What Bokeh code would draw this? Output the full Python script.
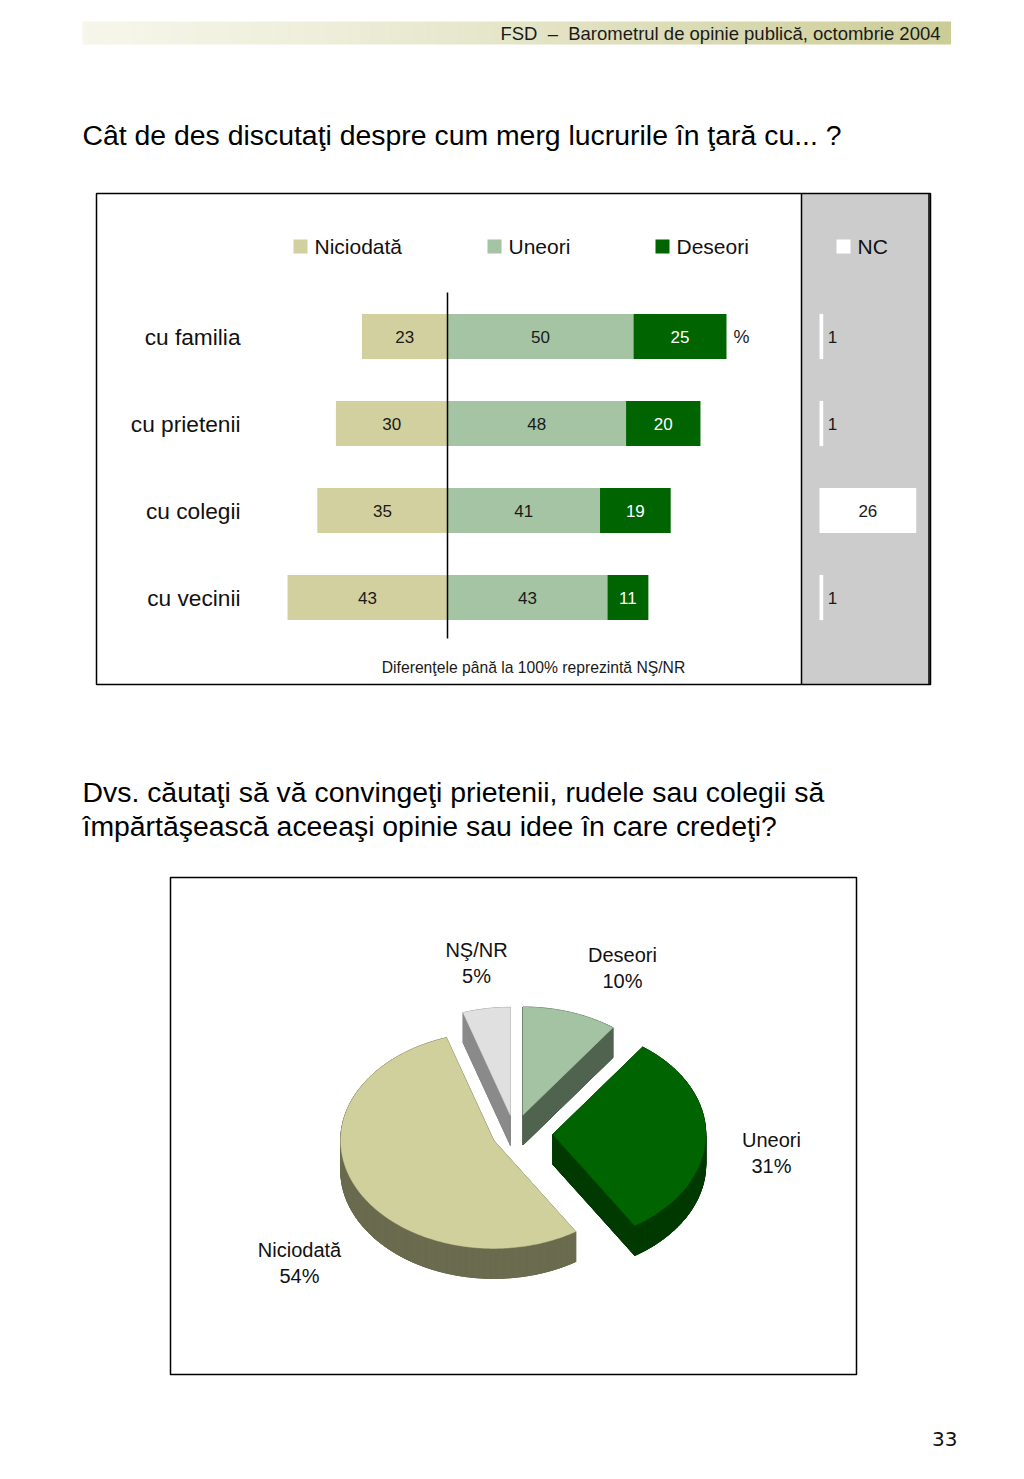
import numpy as np
from bokeh.plotting import figure
from bokeh.layouts import column
from bokeh.models import Range1d
from bokeh.embed import file_html
from bokeh.resources import INLINE
from bokeh.core.properties import value

FONT = "Liberation Sans"

# ---------------- data ----------------
header_text = "FSD\u00a0\u00a0–\u00a0\u00a0Barometrul de opinie publică, octombrie 2004"
title1 = "Cât de des discutaţi despre cum merg lucrurile în ţară cu... ?"
title2_lines = ["Dvs. căutaţi să vă convingeţi prietenii, rudele sau colegii să",
                "împărtăşească aceeaşi opinie sau idee în care credeţi?"]
page_number = "33"

bar_categories = ["cu familia", "cu prietenii", "cu colegii", "cu vecinii"]
bar_series = ["Niciodată", "Uneori", "Deseori"]
niciodata = [23, 30, 35, 43]
uneori = [50, 48, 41, 43]
deseori = [25, 20, 19, 11]
nc_label = "NC"
nc = [1, 1, 26, 1]
bar_note = "Diferenţele până la 100% reprezintă NŞ/NR"
bar_unit = "%"

pie_labels = ["Deseori", "Uneori", "Niciodată", "NŞ/NR"]
pie_values = [10, 31, 54, 5]

# ---------------- styles ----------------
C_NIC = "#d2d09e"
C_UNE = "#a4c4a4"
C_DES = "#006400"
PIE_TOP = {"Deseori": "#a3c3a3", "Uneori": "#006400", "Niciodată": "#d0d09c", "NŞ/NR": "#e0e0e0"}
PIE_SIDE = {"Deseori": "#4f634f", "Uneori": "#003a00", "Niciodată": "#6b6b4f", "NŞ/NR": "#8a8a8a"}
PIE_EXPLODE = {"Deseori": 0.18, "Uneori": 0.25, "Niciodată": 0.15, "NŞ/NR": 0.17}

W = 1008


def blank(height, xr, yr):
    p = figure(width=W, height=height, x_range=xr, y_range=yr,
               output_backend="svg", toolbar_location=None,
               x_axis_type=None, y_axis_type=None, min_border=0)
    p.grid.visible = False
    p.outline_line_color = None
    p.background_fill_color = "white"
    p.border_fill_color = "white"
    return p


def txt(p, x, y, t, size, align="left", color="#111111", font=FONT):
    p.text(x=x, y=y, text=t, text_font=value(font), text_font_size=size,
           text_align=align, text_baseline="middle", text_color=color)


# ---------------- top: header + title 1 ----------------
top = blank(190, Range1d(0, W), Range1d(190, 0))
n = 160
edges = np.linspace(82, 950, n + 1)
c0 = np.array([246, 246, 234])
c1 = np.array([204, 204, 150])
cols = []
for i in range(n):
    f = (i / (n - 1)) ** 1.3
    c = (c0 + (c1 - c0) * f).astype(int)
    cols.append("#%02x%02x%02x" % tuple(c))
top.quad(left=edges[:-1], right=edges[1:] + 0.5, top=21, bottom=44,
         fill_color=cols, line_color=None)
txt(top, [940], [33], [header_text], "18.5px", "right", "#1a1a1a")
txt(top, [82], [134], [title1], "28.4px", "left", "#000000")

# ---------------- bar chart ----------------
s = 3.72  # px per percent (style)
X0 = 447.0  # page x of zero line (style)
Y0, DY = 336.0, 87.0  # page y of first row, row spacing (style)


def px(v):
    return (v - X0) / s


def py(v):
    return (v - Y0) / DY


bar = blank(500, Range1d(px(0), px(W)), Range1d(py(690), py(190)))

idx = list(range(len(bar_categories)))
nic = np.array(niciodata, float)
une = np.array(uneori, float)
des = np.array(deseori, float)
ncv = np.array(nc, float)
nc_start = 100.0

bl, br, bt, bb = px(96), px(930), py(193), py(684)
pl = px(801)

# gray NC panel
bar.quad(left=pl, right=br, top=bt, bottom=bb, fill_color="#cccccc", line_color=None)
bar.segment(x0=pl, y0=bt, x1=pl, y1=bb, line_color="#000000", line_width=1.5)
bar.segment(x0=px(928.5), y0=bt, x1=px(928.5), y1=bb, line_color="#000000", line_width=1.5)
bar.quad(left=bl, right=br, top=bt, bottom=bb, fill_color=None, line_color="#000000", line_width=1.5)

bh = 0.52
bar.hbar(y=idx, left=-nic, right=0, height=bh, fill_color=C_NIC, line_color=None)
bar.hbar(y=idx, left=0, right=une, height=bh, fill_color=C_UNE, line_color=None)
bar.hbar(y=idx, left=une, right=une + des, height=bh, fill_color=C_DES, line_color=None)
bar.hbar(y=idx, left=nc_start, right=nc_start + ncv, height=bh, fill_color="white", line_color=None)

# zero line
bar.segment(x0=0, y0=py(292), x1=0, y1=py(638), line_color="#000000", line_width=1.5)

# value labels
txt(bar, list(-nic / 2), idx, [str(int(v)) for v in nic], "17px", "center", "#1a1a1a")
txt(bar, list(une / 2), idx, [str(int(v)) for v in une], "17px", "center", "#1a1a1a")
txt(bar, list(une + des / 2), idx, [str(int(v)) for v in des], "17px", "center", "#ffffff")
for yy, v in zip(idx, ncv):
    if v < 5:
        txt(bar, [nc_start + v + 1.2], [yy], [str(int(v))], "17px", "left", "#1a1a1a")
    else:
        txt(bar, [nc_start + v / 2], [yy], [str(int(v))], "17px", "center", "#1a1a1a")
txt(bar, [px(733)], [0], [bar_unit], "18px", "left", "#1a1a1a")

# category labels
txt(bar, [px(240)] * 4, idx, bar_categories, "22.7px", "right", "#111111")

# legend
leg_y = py(246)
leg_x = [px(300), px(494), px(662), px(843)]
leg_c = [C_NIC, C_UNE, C_DES, "#ffffff"]
leg_t = bar_series + [nc_label]
bar.rect(x=leg_x, y=leg_y, width=14 / s, height=14 / DY, fill_color=leg_c, line_color=None)
txt(bar, [x + 14 / s for x in leg_x], [leg_y] * 4, leg_t, "21px", "left", "#111111")

# note
txt(bar, [px(533)], [py(667)], [bar_note], "15.7px", "center", "#1a1a1a")

# ---------------- mid: title 2 ----------------
mid = blank(184, Range1d(0, W), Range1d(874, 690))
txt(mid, [82, 82], [791, 825], title2_lines, "28.4px", "left", "#000000")

# ---------------- pie chart ----------------
pie = blank(506, Range1d(0, W), Range1d(1380, 874))
pie.quad(left=170, right=856, top=877, bottom=1374, fill_color=None,
         line_color="#000000", line_width=1.5)

cx, cy = 514.0, 1133.0
Rx, Ry, depth = 153.0, 108.0, 30.0
total = float(sum(pie_values))
ang = 0.0
slices = []
for lab, v in zip(pie_labels, pie_values):
    a0 = ang
    a1 = ang + 2 * np.pi * v / total
    ang = a1
    mid_a = (a0 + a1) / 2
    e = PIE_EXPLODE[lab]
    tx = cx + e * Rx * np.sin(mid_a)
    ty = cy - e * Ry * np.cos(mid_a)
    th = np.linspace(a0, a1, max(8, int(v * 4)))
    xs = np.concatenate([[tx], tx + Rx * np.sin(th)])
    ys = np.concatenate([[ty], ty - Ry * np.cos(th)])
    slices.append((lab, xs, ys, -np.cos(mid_a)))

slices.sort(key=lambda t: t[3])
for lab, xs, ys, _ in slices:
    sc = PIE_SIDE[lab]
    qx, qy = [], []
    m = len(xs)
    for i in range(m):
        j = (i + 1) % m
        qx.append([xs[i], xs[j], xs[j], xs[i]])
        qy.append([ys[i], ys[j], ys[j] + depth, ys[i] + depth])
    pie.patch(xs, ys + depth, fill_color=sc, line_color=sc, line_width=1)
    pie.patches(qx, qy, fill_color=sc, line_color=sc, line_width=1)
    pie.patch(xs, ys, fill_color=PIE_TOP[lab], line_color=PIE_TOP[lab], line_width=0.5)

label_pos = {"NŞ/NR": (476, 949), "Deseori": (622, 954), "Uneori": (771, 1139), "Niciodată": (299, 1249)}
for lab, v in zip(pie_labels, pie_values):
    lx, ly = label_pos[lab]
    txt(pie, [lx, lx], [ly, ly + 26], [lab, f"{v}%"], "20px", "center", "#111111")

# ---------------- bottom: page number ----------------
bot = blank(91, Range1d(0, W), Range1d(1471, 1380))
txt(bot, [957], [1438], [page_number], "20px", "right", "#111111", font="DejaVu Sans")

layout = column(top, bar, mid, pie, bot, spacing=0)
open("out.html", "w").write(file_html(layout, INLINE))
